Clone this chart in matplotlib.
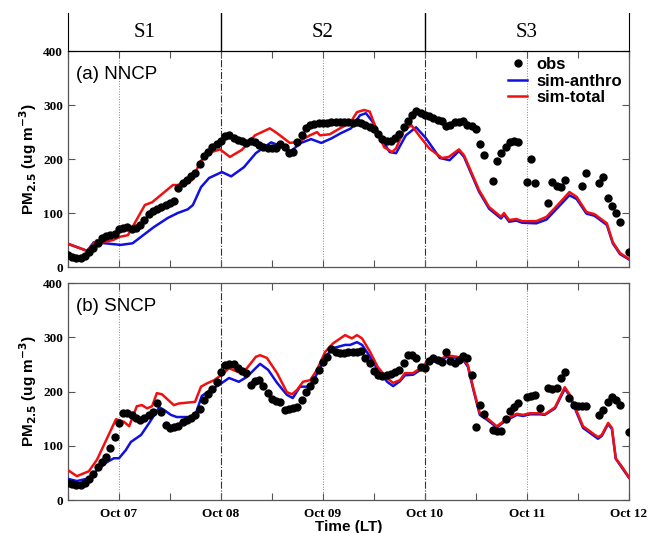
import numpy as np
import matplotlib
matplotlib.use('Agg')
import matplotlib.pyplot as plt
from matplotlib.ticker import MultipleLocator

plt.rcParams['mathtext.fontset'] = 'dejavusans'
plt.rcParams['mathtext.default'] = 'bf'

# time axis: hours since Oct 06 00:00 (LT)
# ---- (a) NNCP ----
a_obs_t = list(range(12, 109)) + [109, 110, 112, 113, 114, 115, 116, 117, 118, 120, 121, 122, 125,
                                  126, 127, 128, 129, 133, 134, 137, 138, 139, 140, 141, 142, 144]
a_obs = [22, 18, 17, 17, 20, 27, 36, 45, 53, 58,
         60, 62, 70, 73, 74, 70, 72, 78, 88, 98,
         104, 108, 111, 115, 119, 123, 146, 155, 162, 168,
         175, 190, 205, 213, 222, 228, 233, 242, 244, 240,
         236, 233, 230, 233, 232, 226, 222, 221, 220, 220,
         228, 222, 212, 214, 232, 245, 258, 263, 265, 266,
         267, 267, 268, 268, 268, 268, 268, 266, 268, 266,
         263, 259, 256, 246, 237, 233, 233, 240, 247, 260,
         270, 281, 289, 286, 282, 280, 277, 273, 270, 262,
         264, 268, 268, 271, 264, 262, 256,
         228, 208, 160, 196, 211, 222, 232, 234, 231, 158, 200, 155, 118,
         157, 150, 148, 161, 150, 174, 155, 166, 127, 114, 100, 83, 28]

a_tot_t = [12, 16.5, 18.8, 20.2, 22.6, 24.2, 26.1, 30.1, 31.8, 36.7,
           37.9, 38.8, 41.2, 43.1, 44.9, 47.8, 50.1, 52.9, 56, 59.5,
           61.2, 64.2, 66.2, 68.9, 70.6, 71.3, 73.6, 76, 78.4, 80,
           81.7, 83, 84.5, 86.4, 88.3, 89.2, 91.1, 92.8, 94.6, 97,
           100, 101.6, 104, 105.2, 108.7, 111.1, 113.9, 114.6, 115.8, 117.5,
           118.9, 122.2, 124.6, 127.6, 130, 131.7, 134, 135.9, 138.8, 140.2,
           141.9, 144]
a_tot = [43, 30, 50, 46, 50, 56, 59, 115, 120, 152,
         152, 156, 161, 195, 211, 218, 204, 217, 244, 257,
         248, 230, 232, 244, 250, 244, 246, 257, 267, 287,
         291, 288, 257, 222, 213, 220, 254, 263, 244, 220,
         202, 204, 218, 207, 143, 111, 93, 100, 87, 89,
         85, 85, 93, 118, 139, 130, 102, 98, 81, 46,
         26, 15]

a_ant_t = [12, 16.5, 18.1, 20.7, 24.4, 27.2, 29.2, 32.2, 35.5, 37.8,
           40.2, 41.4, 43.3, 45.2, 48.2, 50.4, 53.4, 56.2, 59.8, 62.1,
           64.5, 66.8, 69.2, 71.6, 73.9, 76.2, 78.6, 80.7, 82.1, 83.8,
           85.4, 87.7, 89.2, 91.5, 93.9, 96.2, 99.5, 101.8, 104, 105.2,
           108.7, 111.1, 113.9, 114.6, 115.8, 117.5, 118.9, 122.2, 124.6, 127.6,
           130, 131.7, 134, 135.9, 138.8, 140.2, 141.9, 144]
a_ant = [43, 30, 46, 44, 41, 44, 56, 74, 91, 100,
         107, 115, 148, 165, 176, 168, 185, 211, 231, 224,
         215, 230, 237, 230, 238, 248, 257, 281, 285, 268,
         241, 213, 211, 244, 259, 239, 202, 198, 215, 204,
         140, 108, 90, 97, 84, 86, 82, 81, 88, 113,
         133, 126, 99, 95, 78, 44, 24, 14]

# ---- (b) SNCP ----
b_obs_t = list(range(12, 108)) + [108, 109, 110, 112, 113, 114, 115, 116, 117, 118,
                                  120, 121, 122, 123, 125, 126, 127, 128, 129, 130,
                                  131, 132, 133, 134, 137, 138, 139, 140, 141, 142, 144]
b_obs = [31, 30, 28, 28, 31, 39, 48, 60, 70, 79,
         96, 116, 142, 160, 161, 157, 151, 147, 151, 157,
         163, 179, 162, 138, 133, 134, 136, 143, 148, 151,
         157, 167, 184, 196, 204, 218, 236, 249, 251, 250,
         243, 238, 234, 212, 220, 222, 210, 197, 186, 183,
         181, 166, 168, 170, 172, 184, 200, 210, 221, 240,
         255, 264, 278, 272, 271, 271, 272, 272, 273, 275,
         262, 252, 238, 230, 228, 230, 232, 236, 240, 252,
         268, 268, 262, 245, 243, 256, 262, 258, 254, 273,
         256, 252, 258, 265, 262, 230,
         135, 175, 159, 130, 127, 127, 150, 165, 172, 178,
         190, 192, 193, 169, 206, 204, 206, 225, 236, 188,
         175, 173, 173, 173, 157, 166, 181, 190, 184, 175, 125]

b_tot_t = [12, 14.1, 16.9, 18.8, 21.2, 23.3, 25.2, 26.4, 28.2, 29.4,
           30.6, 31.8, 32.9, 34.1, 36.9, 38.1, 41.9, 43.3, 44.7, 46.4,
           48, 49.9, 52.7, 54.1, 56.2, 57.2, 58.8, 61.2, 63.5, 64.7,
           65.9, 67.3, 69, 70.6, 72.5, 74.4, 77.2, 78.8, 80, 81.2,
           83.1, 84.9, 87.1, 88.5, 90.1, 91.3, 93.2, 95.3, 97.2, 98.8,
           100.2, 101.2, 103.5, 104.9, 106.1, 107.3, 108.9, 110.6, 112.9, 114.8,
           117.6, 119.1, 120.7, 123.1, 124.2, 126.6, 128.9, 130.1, 131.8, 133.2,
           136.7, 137.6, 139.1, 140, 140.9, 142.4, 144]
b_tot = [55, 44, 53, 74, 114, 149, 144, 136, 173, 175,
         169, 173, 197, 195, 175, 178, 181, 209, 215, 221,
         230, 243, 234, 243, 264, 267, 262, 234, 199, 195,
         203, 218, 221, 240, 273, 289, 304, 298, 304, 298,
         273, 245, 225, 216, 221, 234, 234, 245, 262, 258,
         262, 267, 264, 262, 249, 209, 160, 151, 136, 147,
         159, 157, 160, 160, 158, 171, 208, 194, 162, 136,
         116, 120, 142, 133, 77, 61, 42]

b_ant_t = [12, 14.1, 16.9, 18.8, 21.2, 22.8, 24, 25.6, 26.8, 29.2,
           31.1, 33.5, 34.6, 36.2, 37.6, 40.9, 42.1, 43.5, 45.6, 47.5,
           49.9, 52.2, 54.1, 56.4, 57.2, 59.1, 61.2, 63.5, 64.9, 66.6,
           68.5, 69.6, 72.9, 74.4, 77.2, 78.4, 80, 81.2, 83.1, 84.9,
           87.1, 88.5, 90.1, 91.3, 93.2, 95.5, 97.2, 98.8, 101.2, 103.5,
           104.9, 106.1, 107.3, 108.9, 110.6, 112.9, 114.8, 117.6, 119.1, 120.7,
           123.1, 124.2, 126.6, 128.9, 130.1, 131.8, 133.2, 136.7, 137.6, 139.1,
           140, 140.9, 142.4, 144]
b_ant = [39, 35, 40, 55, 70, 77, 77, 92, 107, 120,
         142, 171, 166, 157, 153, 153, 160, 192, 203, 212,
         225, 218, 227, 245, 251, 240, 216, 194, 188, 209,
         209, 218, 267, 280, 286, 286, 291, 286, 264, 240,
         218, 210, 219, 230, 231, 243, 258, 254, 264, 262,
         259, 246, 206, 157, 148, 134, 145, 157, 155, 158,
         158, 157, 169, 205, 192, 159, 133, 113, 118, 140,
         131, 76, 59, 41]

day_ticks = [24, 48, 72, 96, 120, 144]
day_labels = ['Oct 07', 'Oct 08', 'Oct 09', 'Oct 10', 'Oct 11', 'Oct 12']
stage_names = ['S1', 'S2', 'S3']
stage_edges = [12, 48, 96, 144]

serif_bold = dict(family='Liberation Serif', weight='bold', size=9.5)
sans = 'Liberation Sans'
spine_c = '#555555'

fig = plt.figure(figsize=(6.5, 5.33), dpi=100)
left, width = 0.1046, 0.863
ax_h = fig.add_axes([left, 0.9043, width, 0.0713])
ax_a = fig.add_axes([left, 0.499, width, 0.405])
ax_b = fig.add_axes([left, 0.0619, width, 0.407])

# stage header
ax_h.set_xlim(12, 144)
ax_h.set_ylim(0, 1)
ax_h.set_xticks([])
ax_h.set_yticks([])
for s in ['top', 'bottom']:
    ax_h.spines[s].set_visible(False)
for s in ['left', 'right']:
    ax_h.spines[s].set_color('black')
for e in stage_edges[1:-1]:
    ax_h.axvline(e, color='black', lw=1.0)
for i, name in enumerate(stage_names):
    ax_h.text((stage_edges[i] + stage_edges[i + 1]) / 2, 0.5, name, ha='center', va='center',
              family='Liberation Serif', fontsize=15)


def draw_panel(ax, obs_t, obs, ant_t, ant, tot_t, tot, label, xlabels):
    for d in [24, 72, 120]:
        ax.axvline(d, color='#888888', lw=0.7, ls=':', zorder=1)
    for d in [48, 96]:
        ax.axvline(d, color='#333333', lw=0.8, ls='-.', zorder=1)
    ax.plot(ant_t, ant, color='#1010e0', lw=1.8, label='sim-anthro', zorder=3)
    ax.plot(tot_t, tot, color='#f01010', lw=1.8, label='sim-total', zorder=4)
    ax.plot(obs_t, obs, 'o', color='black', ms=5.0, label='obs', zorder=5)
    ax.set_xlim(12, 144)
    ax.set_ylim(0, 400)
    ax.set_xticks(day_ticks)
    ax.xaxis.set_minor_locator(MultipleLocator(12))
    ax.yaxis.set_major_locator(MultipleLocator(100))
    ax.tick_params(which='both', direction='in', top=True, right=True, length=5,
                   color=spine_c, width=0.8)
    ax.tick_params(axis='x', which='major', pad=6)
    if xlabels:
        ax.set_xticklabels(day_labels, fontdict=serif_bold)
    else:
        ax.set_xticklabels([])
    for t in ax.get_yticklabels():
        t.set_fontproperties(dict(family='Liberation Serif', weight='bold', size=9.5))
    for s in ax.spines.values():
        s.set_color(spine_c)
        s.set_linewidth(0.9)
    ax.text(0.015, 0.93, label, transform=ax.transAxes, ha='left', va='top',
            family=sans, fontsize=13.5)
    ax.set_ylabel(r'PM$_{\mathbf{2.5}}$ (ug m$^{\mathbf{-3}}$)', family=sans, weight='bold',
                  fontsize=11, labelpad=3)


draw_panel(ax_a, a_obs_t, a_obs, a_ant_t, a_ant, a_tot_t, a_tot, '(a) NNCP', False)
draw_panel(ax_b, b_obs_t, b_obs, b_ant_t, b_ant, b_tot_t, b_tot, '(b) SNCP', True)
ax_a.spines['top'].set_color('black')
ax_b.set_xlabel('Time (LT)', family=sans, weight='bold', fontsize=11, labelpad=0)

h, l = ax_a.get_legend_handles_labels()
order = [2, 0, 1]
ax_a.legend([h[i] for i in order], [l[i] for i in order], loc='upper right',
            bbox_to_anchor=(1.012, 1.035), frameon=False, handlelength=1.1,
            handletextpad=0.6, labelspacing=0.1, borderaxespad=0.4,
            prop=dict(family=sans, weight='bold', size=12))

fig.savefig('out.png', dpi=100)
